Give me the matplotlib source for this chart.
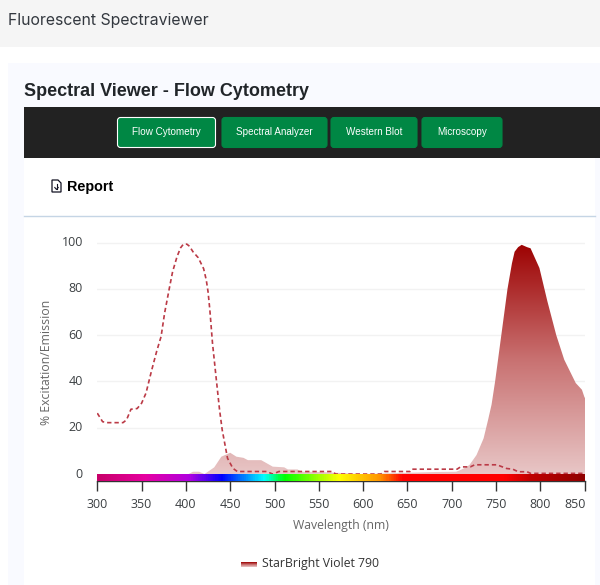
import numpy as np
import matplotlib
matplotlib.use("Agg")
import matplotlib.pyplot as plt
from matplotlib.colors import LinearSegmentedColormap
from matplotlib.patches import FancyBboxPatch, Rectangle, Polygon

# Datos
exc_x = [300, 306, 312, 329, 333, 338, 345, 350, 355, 361, 367, 372, 376, 382, 385, 390, 394, 397, 401, 404,
         408, 414, 420, 423, 425, 427, 430, 434, 438, 441, 447, 453, 458, 491, 498, 505, 565, 569, 620, 624,
         653, 655, 706, 710, 721, 726, 751, 762, 769, 775, 785, 789, 850]
exc_y = [26.3, 22.6, 22.2, 22.2, 23.4, 28, 28.3, 30.6, 35, 44.3, 53, 59.4, 69.6, 81.6, 87.4, 93.9, 97.7, 99.2,
         99.3, 98.4, 96, 93.4, 88.7, 83.8, 78.7, 71, 56.6, 42, 27.7, 19, 6.8, 2.5, 1.1, 1.1, 0, 1.1, 1.1, 0, 0,
         1.1, 1.1, 2.1, 2.1, 3.1, 3.1, 4, 4, 2.4, 2.1, 1, 1, 0.3, 0.3]

em_x = [300, 403, 408, 415, 421, 432, 440, 450, 457, 465, 470, 485, 498, 511, 515, 526, 530, 545, 600,
        683, 705, 709, 714, 720, 728, 736, 741, 745, 749, 756, 763, 768, 771, 775, 779, 785, 789, 799, 808,
        818, 827, 840, 847, 850]
em_y = [0, 0, 1, 1, 0, 2.9, 7.5, 9.2, 7.5, 7, 6, 6, 3.2, 2.9, 2, 2, 1, 1, 0,
        0.9, 1, 1.6, 2.5, 3.9, 8.2, 15.4, 23.3, 30, 40, 60, 80, 91, 96, 98, 99, 98, 97.5, 89, 74.6,
        60, 49.4, 39.3, 36.4, 33]

bar_pos = [300, 353, 403, 440, 465, 488, 511, 573, 620, 645, 760, 790, 850]
bar_col = ["#c8006a", "#e600a0", "#b000e0", "#0000ff", "#0080ff", "#00ffff", "#00ff00", "#ffff00",
           "#ff9000", "#ff0000", "#ff0000", "#c00000", "#900000"]

xticks = [300, 350, 400, 450, 500, 550, 600, 650, 700, 750, 800, 850]
yticks = [0, 20, 40, 60, 80, 100]
botones = ["Flow Cytometry", "Spectral Analyzer", "Western Blot", "Microscopy"]
botones_x = [(117.5, 215.5), (222, 327), (331, 417), (422, 502)]

W, H = 600, 585
fig = plt.figure(figsize=(W / 100, H / 100), dpi=100, facecolor="white")

# Pagina en coordenadas de pixel
bg = fig.add_axes([0, 0, 1, 1])
bg.set_xlim(0, W)
bg.set_ylim(H, 0)
bg.axis("off")
bg.add_patch(Rectangle((0, 0), W, 47, color="#f5f5f5", lw=0))
bg.add_patch(Rectangle((8, 63), W - 8, H - 63, color="#f9faff", lw=0))
bg.add_patch(Rectangle((24, 158), 571, H - 158, color="white", lw=0))
bg.add_patch(Rectangle((24, 107), W - 24, 51, color="#222222", lw=0))
bg.plot([24, 595], [216, 216], color="#c5d5e5", lw=1)

bg.text(8, 20, "Fluorescent Spectraviewer", family="Inter", fontsize=11.4, color="#33383f", va="center")
bg.text(24, 91.5, "Spectral Viewer - Flow Cytometry", family="Liberation Sans", fontsize=13,
        fontweight="bold", color="#212529", va="center")

for i, nombre in enumerate(botones):
    x0, x1 = botones_x[i]
    bg.add_patch(FancyBboxPatch((x0, 117.5), x1 - x0, 30, boxstyle="round,pad=0,rounding_size=3",
                                fc="#008744", ec="white" if i == 0 else "#008744", lw=0.8, zorder=2))
    bg.text((x0 + x1) / 2, 132, nombre, family="Liberation Sans", fontsize=7.1, color="white",
            ha="center", va="center", zorder=3)

# Icono del informe
bg.add_patch(Polygon([(52, 180), (58, 180), (61, 183), (61, 192), (52, 192)], closed=True, fc="white",
                     ec="#111122", lw=0.9))
bg.plot([56.5, 56.5], [184, 189], color="#111122", lw=0.8)
bg.plot([54.8, 56.5, 58.2], [187.5, 189.5, 187.5], color="#111122", lw=0.8)
bg.text(67, 186.5, "Report", family="Liberation Sans", fontsize=10.4, fontweight="bold", color="black",
        va="center")

# Ejes del grafico
left, right, top, bottom = 97.3, 585, 240, 481
ax = fig.add_axes([left / W, 1 - bottom / H, (right - left) / W, (bottom - top) / H])
ax.patch.set_alpha(0)
ymin, ymax = -3, (474 - top) / 2.315
xmax = 300 + (right - left) / 0.886
ax.set_xlim(300, xmax)
ax.set_ylim(ymin, ymax)

ax.set_yticks(yticks[1:], minor=False)
ax.grid(axis="y", color="#f2f2f2", lw=1)
ax.set_axisbelow(True)
for lado in ["top", "right", "left"]:
    ax.spines[lado].set_visible(False)
ax.spines["bottom"].set_color("#333333")
ax.spines["bottom"].set_linewidth(1)

# Relleno de emision con degradado
grad = LinearSegmentedColormap.from_list("em", ["#e8c6c6", "#c87070", "#9c0000"])
img = ax.imshow(np.linspace(1, 0, 256).reshape(-1, 1), cmap=grad, aspect="auto", vmin=0, vmax=1,
                extent=[300, xmax, 0, 100], zorder=2)
puntos = list(zip(em_x, em_y)) + [(850.5, 33), (850.5, 0), (300, 0)]
clip = Polygon(puntos, closed=True, transform=ax.transData, fc="none", ec="none")
ax.add_patch(clip)
img.set_clip_path(clip)

# Excitacion
ax.plot(exc_x, exc_y, color="#bb3a46", lw=1.2, ls=(0, (2.6, 1.8)), zorder=3)

# Barra de espectro
cmap_bar = LinearSegmentedColormap.from_list("bar", [((p - 300) / 550, c) for p, c in zip(bar_pos, bar_col)])
ax.imshow(np.linspace(0, 1, 550).reshape(1, -1), cmap=cmap_bar, aspect="auto", extent=[300, xmax, ymin, 0],
          zorder=4)
ax.set_xlim(300, xmax)
ax.set_ylim(ymin, ymax)

ax.set_xticks(xticks)
ax.set_xticklabels([])
ax.tick_params(axis="x", length=7.2, width=1, color="#333333")
ax.tick_params(axis="y", length=0, labelleft=False)

fuente = "Open Sans"
for v in xticks:
    px = left + (v - 300) * 0.886
    if v == 850:
        px = 574.7
    bg.text(px, 504.5, str(v), family=fuente, fontsize=9, color="#3c4043", ha="center", va="center")
for v in yticks:
    bg.text(83, 474 - v * 2.315, str(v), family=fuente, fontsize=9, color="#3c4043", ha="right", va="center")

bg.text(46, 362.5, "% Excitation/Emission", family=fuente, fontsize=8.8, color="#666666", rotation=90,
        ha="center", va="center")
bg.text(341, 526, "Wavelength (nm)", family=fuente, fontsize=8.8, color="#666666", ha="center", va="center")

# Leyenda
bg.imshow(np.linspace(1, 0, 32).reshape(-1, 1), cmap=grad, aspect="auto", vmin=0, vmax=1,
          extent=[241, 257, 567, 562], zorder=2)
bg.set_xlim(0, W)
bg.set_ylim(H, 0)
bg.text(262, 563, "StarBright Violet 790", family=fuente, fontsize=8.8, color="#333333", va="center")

fig.savefig("out.png", dpi=100)
